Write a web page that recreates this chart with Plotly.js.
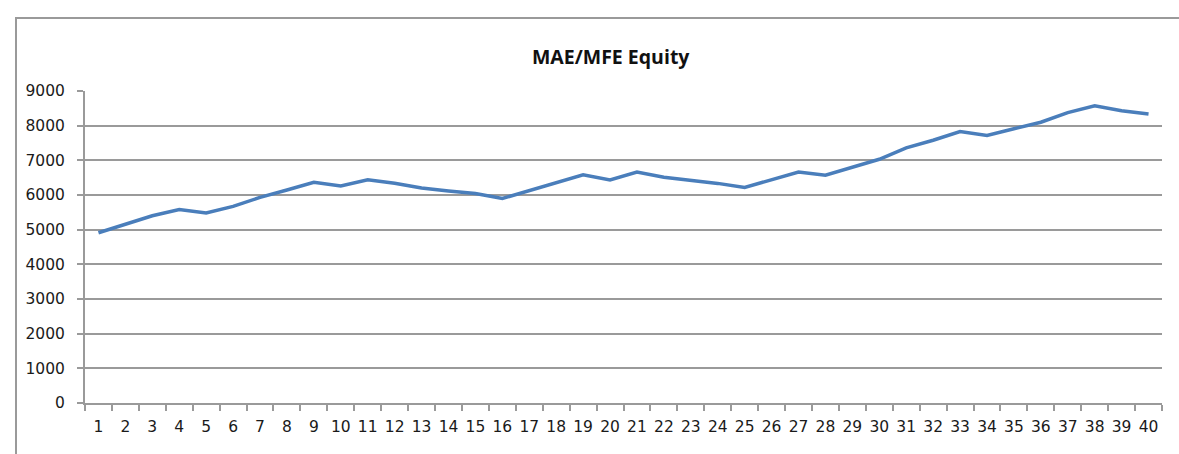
<!DOCTYPE html>
<html>
<head>
<meta charset="utf-8">
<script src="https://cdn.plot.ly/plotly-3.0.1.min.js"></script>
<style>
  html, body { margin: 0; padding: 0; background: #fff; }
  #wrap { position: relative; width: 1179px; height: 454px; overflow: hidden; }
  #frame { position: absolute; left: 15px; top: 17px; width: 1170px; height: 450px;
           border-top: 2px solid #9a9a9a; border-left: 2px solid #9a9a9a; pointer-events: none; }
  #chart { position: absolute; left: 0; top: 0; width: 1179px; height: 454px; }
</style>
</head>
<body>
<div id="wrap">
  <div id="chart"></div>
  <div id="frame"></div>
</div>
<script>
const categories = ["1","2","3","4","5","6","7","8","9","10","11","12","13","14","15","16","17","18","19","20",
                    "21","22","23","24","25","26","27","28","29","30","31","32","33","34","35","36","37","38","39","40"];
const equity = [4910, 5150, 5400, 5580, 5480, 5670, 5930, 6145, 6365, 6260,
                6440, 6340, 6200, 6115, 6045, 5900, 6125, 6355, 6580, 6435,
                6660, 6515, 6430, 6335, 6220, 6435, 6660, 6570, 6800, 7030,
                7360, 7580, 7830, 7720, 7910, 8100, 8375, 8575, 8430, 8335];
const yTicks = [0, 1000, 2000, 3000, 4000, 5000, 6000, 7000, 8000, 9000];
const chartTitle = "MAE/MFE Equity";

const gridColor = "#9a9a9a";
const textFont = { family: "DejaVu Sans, Verdana, sans-serif", size: 15.5, color: "#1a1a1a" };

Plotly.newPlot("chart", [{
  type: "scatter",
  mode: "lines",
  x: categories,
  y: equity,
  line: { color: "#4a7ebb", width: 3.5 },
  hoverinfo: "x+y"
}], {
  width: 1179,
  height: 454,
  margin: { l: 85, r: 17, t: 91, b: 51 },
  paper_bgcolor: "#ffffff",
  plot_bgcolor: "#ffffff",
  showlegend: false,
  title: {
    text: "<b>" + chartTitle + "</b>",
    font: { family: "Open Sans, Noto Sans, sans-serif", size: 19.5, color: "#111" },
    x: 0.518, xanchor: "center",
    y: 0.875, yanchor: "middle"
  },
  xaxis: {
    type: "category",
    tickson: "boundaries",
    ticks: "outside",
    ticklen: 6,
    tickcolor: gridColor,
    tickwidth: 2,
    showline: true,
    linecolor: gridColor,
    linewidth: 2,
    showgrid: false,
    zeroline: false,
    tickfont: textFont,
    ticklabelstandoff: 8,
    tickangle: 0,
    range: [-0.5, 39.5],
    fixedrange: true
  },
  yaxis: {
    range: [0, 9000],
    tickmode: "array",
    tickvals: yTicks,
    ticktext: yTicks.map(String),
    ticks: "outside",
    ticklen: 6,
    tickcolor: gridColor,
    tickwidth: 2,
    showline: true,
    linecolor: gridColor,
    linewidth: 2,
    showgrid: true,
    gridcolor: gridColor,
    gridwidth: 2,
    zeroline: false,
    tickfont: textFont,
    ticklabelstandoff: 9,
    fixedrange: true
  }
}, { displayModeBar: false, staticPlot: true });
</script>
</body>
</html>
